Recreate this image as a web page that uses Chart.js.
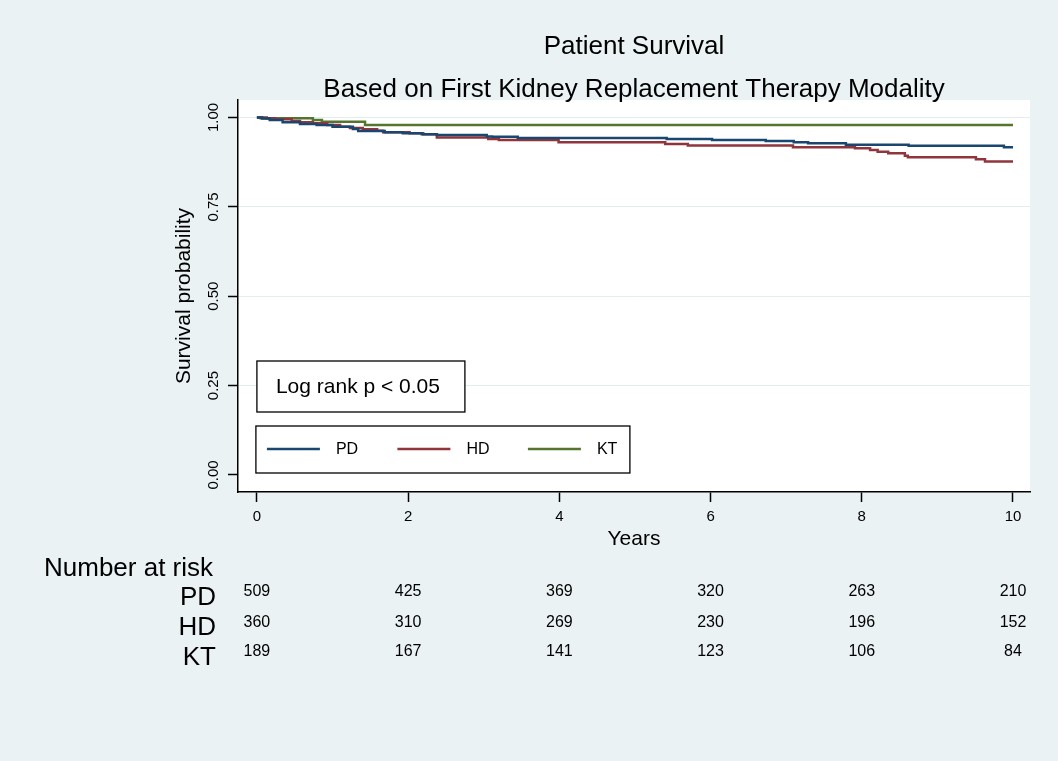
<!DOCTYPE html>
<html lang="en">
<head>
<meta charset="UTF-8" />
<title>Patient Survival</title>
<script src="https://cdn.jsdelivr.net/npm/chart.js"></script>
<style>
  html, body {
    margin: 0;
    padding: 0;
    background-color: #eaf2f3;
  }
  .container {
    width: 1058px;
    height: 761px;
  }
</style>
</head>
<body>

<div class="container">
  <canvas id="kmChart" width="1058" height="761"></canvas>
</div>

<script>
  const fontFamily = '"Liberation Sans", Arial, Helvetica, sans-serif';

  // Kaplan-Meier step points: time (years) and survival probability after each drop
  const pdYears = [0, 0.07, 0.17, 0.34, 0.57, 0.79, 1.0, 1.27, 1.34, 1.69, 1.93, 2.18, 2.38, 3.04, 3.11, 3.45, 5.42, 6.02, 6.73, 7.10, 7.29, 7.79, 8.62, 9.88, 10];
  const pdSurv  = [1, 0.997, 0.993, 0.987, 0.982, 0.979, 0.974, 0.968, 0.962, 0.959, 0.956, 0.953, 0.951, 0.947, 0.946, 0.943, 0.940, 0.937, 0.934, 0.931, 0.928, 0.924, 0.921, 0.917, 0.917];

  const hdYears = [0, 0.13, 0.24, 0.46, 0.57, 0.74, 0.93, 1.10, 1.23, 1.40, 1.59, 1.67, 2.02, 2.20, 2.38, 3.06, 3.20, 3.99, 5.40, 5.70, 7.09, 7.91, 8.11, 8.21, 8.35, 8.57, 8.61, 9.51, 9.63, 10];
  const hdSurv  = [1, 0.998, 0.995, 0.990, 0.987, 0.984, 0.979, 0.974, 0.971, 0.967, 0.963, 0.959, 0.956, 0.953, 0.944, 0.940, 0.937, 0.931, 0.926, 0.922, 0.917, 0.914, 0.909, 0.904, 0.900, 0.893, 0.889, 0.883, 0.877, 0.877];

  const ktYears = [0, 0.05, 0.74, 0.86, 1.43, 10];
  const ktSurv  = [1, 0.998, 0.993, 0.988, 0.979, 0.979];

  // number at risk
  const riskYears = [0, 2, 4, 6, 8, 10];
  const riskPD = [509, 425, 369, 320, 263, 210];
  const riskHD = [360, 310, 269, 230, 196, 152];
  const riskKT = [189, 167, 141, 123, 106, 84];

  const groupLabels = ['PD', 'HD', 'KT'];
  const groupColors = ['#1a476f', '#90353b', '#55752f'];

  const xTicks = [0, 2, 4, 6, 8, 10];
  const yTicks = [0, 0.25, 0.5, 0.75, 1];

  const toPoints = (xs, ys) => xs.map((x, i) => ({ x: x, y: ys[i] }));

  const plotBackground = {
    id: 'plotBackground',
    beforeDraw(chart) {
      const { ctx, chartArea } = chart;
      ctx.save();
      ctx.fillStyle = '#ffffff';
      ctx.fillRect(chartArea.left, chartArea.top, chartArea.right - chartArea.left, chartArea.bottom - chartArea.top);
      ctx.restore();
    }
  };

  // log-rank note, legend box and the number-at-risk table
  const extras = {
    id: 'extras',
    afterDraw(chart) {
      const { ctx, chartArea } = chart;
      const xs = chart.scales.x;
      const x0 = xs.getPixelForValue(0);
      const b = chartArea.bottom;

      ctx.save();
      ctx.strokeStyle = '#000';
      ctx.lineWidth = 1.3;
      ctx.fillStyle = '#fff';

      // log rank box
      ctx.fillRect(x0, b - 131, 208, 51);
      ctx.strokeRect(x0, b - 131, 208, 51);
      ctx.fillStyle = '#000';
      ctx.font = '21px ' + fontFamily;
      ctx.textBaseline = 'middle';
      ctx.textAlign = 'left';
      ctx.fillText('Log rank p < 0.05', x0 + 19, b - 105);

      // legend box
      ctx.fillStyle = '#fff';
      ctx.fillRect(x0 - 1, b - 66, 374, 47);
      ctx.strokeRect(x0 - 1, b - 66, 374, 47);
      ctx.font = '16px ' + fontFamily;
      chart.data.datasets.forEach((ds, i) => {
        const lx = x0 + 10 + i * 130.5;
        const ly = b - 43;
        ctx.strokeStyle = ds.borderColor;
        ctx.lineWidth = 2.5;
        ctx.beginPath();
        ctx.moveTo(lx, ly);
        ctx.lineTo(lx + 53, ly);
        ctx.stroke();
        ctx.fillStyle = '#000';
        ctx.fillText(ds.label, lx + 69, ly + 1);
      });

      // number at risk
      ctx.fillStyle = '#000';
      ctx.textAlign = 'left';
      ctx.font = '26px ' + fontFamily;
      ctx.fillText('Number at risk', 44, 569);

      const rows = [riskPD, riskHD, riskKT];
      const rowY = [598, 628, 658];
      const numY = [592, 622.5, 652];
      rows.forEach((row, r) => {
        ctx.textAlign = 'right';
        ctx.font = '26px ' + fontFamily;
        ctx.fillText(groupLabels[r], 216, rowY[r]);
        ctx.textAlign = 'center';
        ctx.font = '16px ' + fontFamily;
        row.forEach((n, k) => {
          ctx.fillText(String(n), xs.getPixelForValue(riskYears[k]), numY[r]);
        });
      });
      ctx.restore();
    }
  };

  const lineStyle = {
    borderWidth: 2.5,
    pointRadius: 0,
    fill: false,
    stepped: 'before',
    tension: 0
  };

  const kmChart = new Chart(document.getElementById('kmChart'), {
    type: 'line',
    data: {
      datasets: [
        { label: groupLabels[0], data: toPoints(pdYears, pdSurv), borderColor: groupColors[0], ...lineStyle },
        { label: groupLabels[1], data: toPoints(hdYears, hdSurv), borderColor: groupColors[1], ...lineStyle },
        { label: groupLabels[2], data: toPoints(ktYears, ktSurv), borderColor: groupColors[2], ...lineStyle }
      ]
    },
    options: {
      responsive: false,
      animation: false,
      devicePixelRatio: 1,
      layout: {
        padding: { top: 0, left: 0, right: 28, bottom: 209 }
      },
      plugins: {
        legend: { display: false },
        tooltip: { enabled: false },
        title: {
          display: true,
          fullSize: false,
          text: 'Patient Survival',
          color: '#000',
          font: { family: fontFamily, size: 26, weight: 'normal', lineHeight: 1 },
          padding: { top: 34, bottom: 0 }
        },
        subtitle: {
          display: true,
          fullSize: false,
          text: 'Based on First Kidney Replacement Therapy Modality',
          color: '#000',
          font: { family: fontFamily, size: 26, weight: 'normal', lineHeight: 1 },
          padding: { top: 17, bottom: -3 }
        }
      },
      scales: {
        x: {
          type: 'linear',
          min: -0.25,
          max: 10.225,
          afterBuildTicks: (scale) => { scale.ticks = xTicks.map(v => ({ value: v })); },
          afterFit: (scale) => { scale.height = 60; },
          ticks: {
            autoSkip: false,
            color: '#000',
            padding: 6,
            maxRotation: 0,
            font: { family: fontFamily, size: 15 }
          },
          grid: {
            drawOnChartArea: false,
            drawTicks: true,
            tickLength: 10,
            tickColor: '#000',
            tickWidth: 1.5
          },
          border: { display: true, color: '#000', width: 1.5 },
          title: {
            display: true,
            text: 'Years',
            color: '#000',
            font: { family: fontFamily, size: 21 },
            padding: { top: 0, bottom: 0 }
          }
        },
        y: {
          min: -0.0476,
          max: 1.049,
          afterBuildTicks: (scale) => { scale.ticks = yTicks.map(v => ({ value: v })); },
          afterFit: (scale) => { scale.width = 238; },
          ticks: {
            autoSkip: false,
            color: '#000',
            padding: 0,
            minRotation: 90,
            maxRotation: 90,
            crossAlign: 'center',
            font: { family: fontFamily, size: 15 },
            callback: (v) => Number(v).toFixed(2)
          },
          grid: {
            color: (c) => (c.tick && c.tick.value === 0 ? 'rgba(0,0,0,0)' : '#e3ecee'),
            lineWidth: 1,
            drawTicks: true,
            tickLength: 10,
            tickColor: '#000',
            tickWidth: 1.5
          },
          border: { display: true, color: '#000', width: 1.5 },
          title: {
            display: true,
            text: 'Survival probability',
            color: '#000',
            font: { family: fontFamily, size: 21 },
            padding: { top: 172, bottom: 0 }
          }
        }
      }
    },
    plugins: [plotBackground, extras]
  });
</script>

</body>
</html>
